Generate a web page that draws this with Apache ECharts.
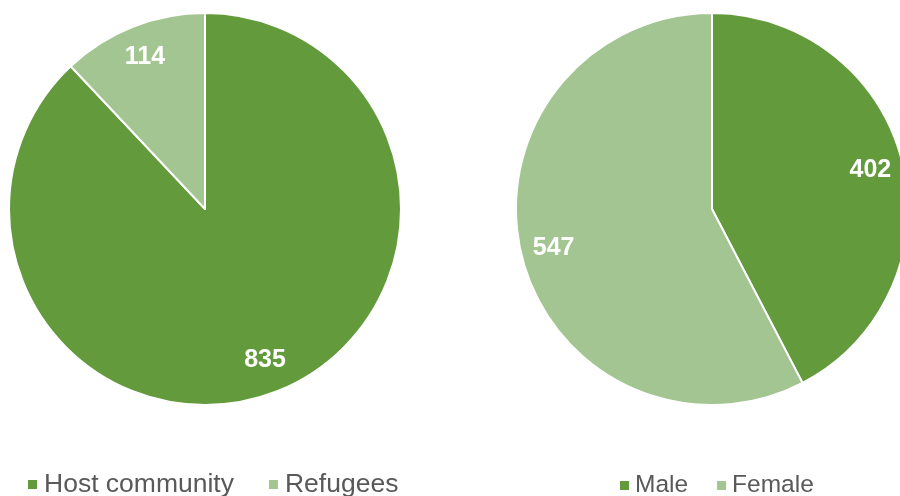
<!DOCTYPE html>
<html><head><meta charset="utf-8">
<script src="https://cdn.jsdelivr.net/npm/echarts@6/dist/echarts.min.js"></script>
<style>html,body{margin:0;padding:0;background:#fff}#c{width:900px;height:496px}</style>
</head><body><div id="c"></div>
<script>
const popCategories = ['Host community', 'Refugees'];
const popValues = [835, 114];
const sexCategories = ['Male', 'Female'];
const sexValues = [402, 547];
const colors = ['#629a3c', '#a3c592'];

function toData(cats, vals) {
  return cats.map((c, i) => ({ name: c, value: vals[i], itemStyle: { color: colors[i] } }));
}
function pieBase(cats, vals, center) {
  return {
    type: 'pie', center: center, radius: [0, 196], startAngle: 90, clockwise: true,
    silent: true, animation: false,
    itemStyle: { borderColor: '#fff', borderWidth: 2 },
    label: { show: false }, labelLine: { show: false },
    data: toData(cats, vals)
  };
}
function pieLabels(cats, vals, center) {
  return {
    type: 'pie', center: center, radius: [124, 196], startAngle: 90, clockwise: true,
    silent: true, animation: false,
    itemStyle: { color: 'rgba(0,0,0,0)', borderWidth: 0 },
    label: { show: true, position: 'inside', formatter: '{c}', color: '#fff',
      fontFamily: 'Liberation Sans, Arial, sans-serif', fontWeight: 'bold', fontSize: 25 },
    labelLine: { show: false },
    data: cats.map((c, i) => ({ name: c, value: vals[i], itemStyle: { color: 'rgba(0,0,0,0)' } }))
  };
}
const leftText = { color: '#595959', fontSize: 26.5, fontFamily: 'Liberation Sans, Arial, sans-serif', padding: [0, 0, 0, 2] };
const rightText = { color: '#595959', fontSize: 24.5, fontFamily: 'Liberation Sans, Arial, sans-serif', padding: [0, 0, 0, 1] };
const chart = echarts.init(document.getElementById('c'), null, { renderer: 'canvas' });
chart.setOption({
  animation: false,
  legend: [
    { data: popCategories, left: 23, top: 466, icon: 'rect', itemWidth: 9, itemHeight: 9, itemGap: 35,
      itemStyle: { borderWidth: 0 }, textStyle: leftText, selectedMode: false },
    { data: sexCategories, left: 615, top: 468, icon: 'rect', itemWidth: 9, itemHeight: 9, itemGap: 29,
      itemStyle: { borderWidth: 0 }, textStyle: rightText, selectedMode: false }
  ],
  series: [
    pieBase(popCategories, popValues, [205, 209]),
    pieBase(sexCategories, sexValues, [712, 209]),
    pieLabels(popCategories, popValues, [205, 209]),
    pieLabels(sexCategories, sexValues, [712, 209])
  ]
});
</script></body></html>
